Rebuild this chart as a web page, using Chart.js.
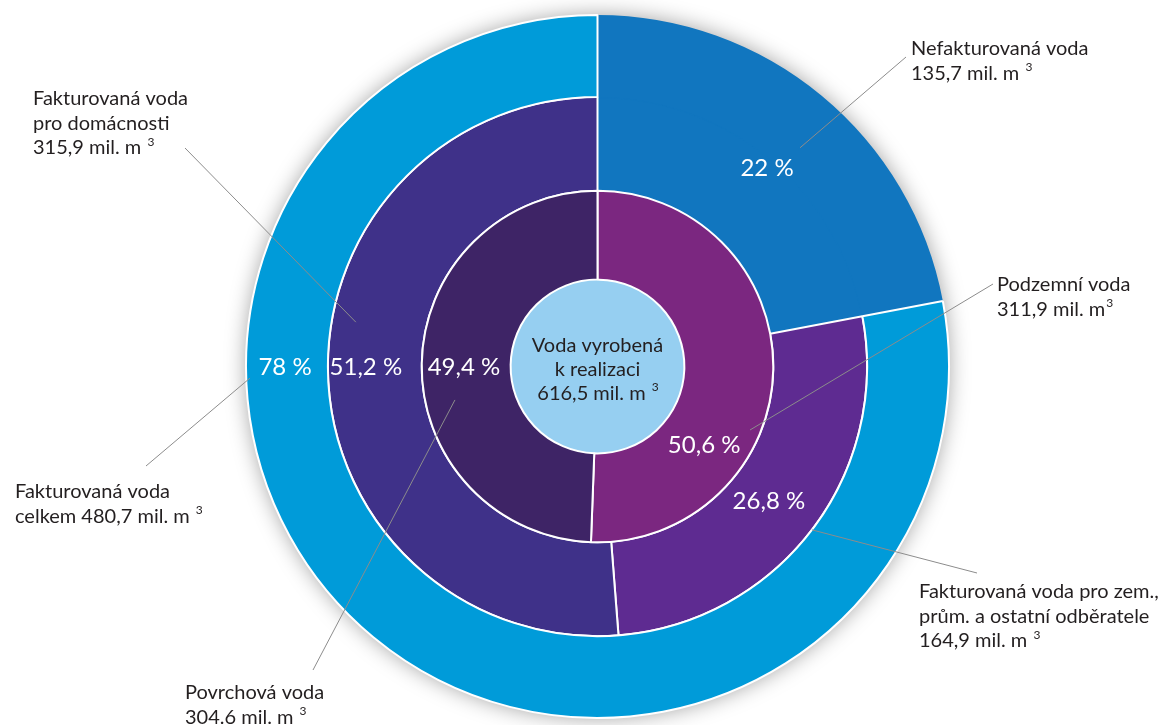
<!DOCTYPE html>
<html><head><meta charset="utf-8">
<script src="https://cdn.jsdelivr.net/npm/chart.js@4.4.1/dist/chart.umd.min.js"></script>
<style>html,body{margin:0;padding:0;background:#fff;}</style>
</head><body>
<canvas id="c" width="1161" height="725"></canvas>
<script>
// ---- data ----
const outerLabels = ['Nefakturovaná voda', 'Fakturovaná voda celkem'];
const outerValues = [135.7, 480.7];
const middleLabels = ['Nefakturovaná voda', 'Fakturovaná voda pro zem., prům. a ostatní odběratele', 'Fakturovaná voda pro domácnosti'];
const middleValues = [135.7, 164.9, 315.9];
const innerLabels = ['Podzemní voda', 'Povrchová voda'];
const innerValues = [311.9, 304.6];
const centerLabels = ['Voda vyrobená k realizaci'];
const centerValues = [616.5];
const outerPct = ['22 %', '78 %'];
const middlePct = ['26,8 %', '51,2 %'];
const innerPct = ['50,6 %', '49,4 %'];
const centerText = ['Voda vyrobená', 'k realizaci', '616,5 mil. m ³'];

// ---- styles ----
const C = {
  darkBlue: '#1176bf', lightBlue: '#009bd9', indigo: '#3f3189', purple: '#5e2b91',
  magenta: '#7b2780', darkViolet: '#3e2466', center: '#96cff1', text: '#231f20', line: '#8c8c8c'
};
const FONT = 'Lato, "Open Sans", sans-serif';

// label layout: angle (deg from top), radius as fraction of outer radius
const pctPlaces = [
  {t: outerPct[0], a: 40.35, f: 0.745},
  {t: outerPct[1], a: 270, f: 0.889},
  {t: middlePct[1], a: 270, f: 0.659},
  {t: innerPct[1], a: 270, f: 0.380},
  {t: innerPct[0], a: 126.0, f: 0.375},
  {t: middlePct[0], a: 127.9, f: 0.618}
];
const callouts = [
  {lines: ['Nefakturovaná voda', '135,7 mil. m ³'], x: 911, y: 55, a: 42.8, f: 0.848, ex: 906, ey: 57},
  {lines: ['Fakturovaná voda', 'pro domácnosti', '315,9 mil. m ³'], x: 33, y: 105, a: 280.4, f: 0.699, ex: 185, ey: 148},
  {lines: ['Podzemní voda', '311,9 mil. m³'], x: 997, y: 291, a: 112.6, f: 0.470, ex: 993, ey: 284},
  {lines: ['Fakturovaná voda pro zem.,', 'prům. a ostatní odběratele', '164,9 mil. m ³'], x: 919, y: 598, a: 127.3, f: 0.767, ex: 977, ey: 573},
  {lines: ['Fakturovaná voda', 'celkem 480,7 mil. m ³'], x: 15, y: 498, a: 268.1, f: 0.989, ex: 146, ey: 466},
  {lines: ['Povrchová voda', '304.6 mil. m ³'], x: 185, y: 699, a: 256.8, f: 0.4165, ex: 313, ey: 670}
];

// draws text, rendering "³" as a raised smaller glyph
function drawRich(ctx, str, x, y, size, align) {
  const parts = str.split('³');
  const big = size + 'px ' + FONT, small = Math.round(size * 0.6) + 'px ' + FONT;
  ctx.font = big;
  const w = ctx.measureText(parts[0]).width;
  let supW = 0;
  if (parts.length > 1) { ctx.font = small; supW = ctx.measureText('3').width; }
  const sx = align === 'center' ? x - (w + supW) / 2 : x;
  ctx.textAlign = 'left';
  ctx.font = big; ctx.fillText(parts[0], sx, y);
  if (parts.length > 1) { ctx.font = small; ctx.fillText('3', sx + w + 1, y - size * 0.42); }
}

const annotPlugin = {
  id: 'annot',
  beforeDatasetsDraw(chart) {
    const ctx = chart.ctx;
    const el = chart.getDatasetMeta(0).data[0];
    ctx.save();
    ctx.shadowColor = 'rgba(0,0,0,0.4)'; ctx.shadowBlur = 22;
    ctx.fillStyle = C.lightBlue;
    ctx.beginPath(); ctx.arc(el.x, el.y, el.outerRadius - 1, 0, Math.PI * 2); ctx.fill();
    ctx.restore();
  },
  afterDatasetsDraw(chart) {
    const ctx = chart.ctx;
    const el = chart.getDatasetMeta(0).data[0];
    const cx = el.x, cy = el.y, R = el.outerRadius;
    const pol = (deg, f) => { const r = (deg - 90) * Math.PI / 180; return [cx + Math.cos(r) * f * R, cy + Math.sin(r) * f * R]; };
    ctx.save();
    ctx.strokeStyle = C.line; ctx.lineWidth = 1;
    callouts.forEach(c => {
      const [x1, y1] = pol(c.a, c.f);
      ctx.beginPath(); ctx.moveTo(x1, y1); ctx.lineTo(c.ex, c.ey); ctx.stroke();
    });
    ctx.fillStyle = '#fff'; ctx.textAlign = 'center'; ctx.textBaseline = 'middle';
    ctx.font = '24px ' + FONT;
    pctPlaces.forEach(p => { const [x, y] = pol(p.a, p.f); ctx.fillText(p.t, x, y + 1); });
    ctx.fillStyle = C.text; ctx.textBaseline = 'alphabetic';
    callouts.forEach(c => c.lines.forEach((l, i) => drawRich(ctx, l, c.x, c.y + i * 24.5, 20, 'left')));
    centerText.forEach((l, i) => drawRich(ctx, l, cx, cy - 15 + i * 24, 20, 'center'));
    ctx.restore();
  }
};

new Chart(document.getElementById('c'), {
  type: 'doughnut',
  data: {
    datasets: [
      { label: 'outer', data: outerValues, labels: outerLabels, weight: 82, order: 2,
        backgroundColor: [C.darkBlue, C.lightBlue], borderColor: '#fff', borderWidth: [0, 2] },
      { label: 'middle', data: middleValues, labels: middleLabels, weight: 94, order: 3,
        backgroundColor: [C.darkBlue, C.purple, C.indigo], borderColor: [C.darkBlue, '#fff', '#fff'], borderWidth: 2 },
      { label: 'inner', data: innerValues, labels: innerLabels, weight: 89, order: 1,
        backgroundColor: [C.magenta, C.darkViolet], borderColor: '#fff', borderWidth: 2 },
      { label: 'center', data: centerValues, labels: centerLabels, weight: 87, order: 4,
        backgroundColor: [C.center], borderWidth: 0 }
    ]
  },
  options: {
    responsive: false, animation: false, events: [],
    cutout: 0, rotation: 0, circumference: 360,
    layout: { padding: { top: 14, bottom: 6, left: 34, right: 0 } },
    elements: { arc: { hoverOffset: 0, offset: 0 } },
    plugins: { legend: { display: false }, tooltip: { enabled: false } }
  },
  plugins: [annotPlugin]
});
</script>
</body></html>
